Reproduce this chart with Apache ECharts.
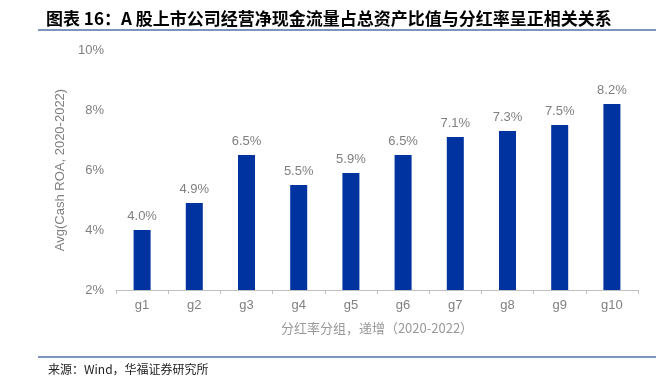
<!DOCTYPE html>
<html><head><meta charset="utf-8">
<script src="https://cdn.jsdelivr.net/npm/echarts@6/dist/echarts.min.js"></script>
<style>html,body{margin:0;padding:0;background:#fff}#c{width:663px;height:383px}</style>
</head><body><div id="c"></div>
<script>
const categories = ['g1','g2','g3','g4','g5','g6','g7','g8','g9','g10'];
const values = [4.0, 4.9, 6.5, 5.5, 5.9, 6.5, 7.1, 7.3, 7.5, 8.2];
const yTicks = [2, 4, 6, 8, 10];
const titleText = '图表 16：A 股上市公司经营净现金流量占总资产比值与分红率呈正相关关系';
const sourceText = '来源：Wind，华福证券研究所';
const xName = '分红率分组，递增（2020-2022）';
const yName = 'Avg(Cash ROA, 2020-2022)';

const chart = echarts.init(document.getElementById('c'));
chart.setOption({
  animation: false,
  title: {
    text: titleText, left: 41, top: 5,
    textStyle: {fontFamily: '"Noto Sans CJK SC"', fontSize: 17, fontWeight: 'bold', color: '#000'}
  },
  graphic: [
    {type: 'line', shape: {x1: 38, y1: 30, x2: 656, y2: 30}, style: {stroke: '#4f72a8', lineWidth: 1.5}},
    {type: 'line', shape: {x1: 38, y1: 357, x2: 656, y2: 357}, style: {stroke: '#4f72a8', lineWidth: 1.5}},
    {type: 'text', left: 48, top: 363, style: {text: sourceText, fontSize: 12, fill: '#222', fontFamily: '"Noto Sans CJK SC"'}}
  ],
  grid: {left: 116, right: 25, top: 50, bottom: 93},
  xAxis: {
    type: 'category', data: categories,
    name: xName, nameLocation: 'middle', nameGap: 32,
    nameTextStyle: {color: '#999999', fontSize: 13, fontFamily: '"Noto Sans CJK SC"'},
    axisLine: {lineStyle: {color: '#bfbfbf'}},
    axisTick: {show: true, length: 4, lineStyle: {color: '#bfbfbf'}},
    axisLabel: {color: '#808080', fontSize: 13, margin: 9, fontFamily: 'Liberation Sans'}
  },
  yAxis: {
    type: 'value', min: yTicks[0], max: yTicks[yTicks.length-1], interval: 2,
    name: yName, nameLocation: 'middle', nameGap: 48, nameRotate: 90,
    nameTextStyle: {color: '#808080', fontSize: 13, fontFamily: 'Liberation Sans'},
    axisLine: {show: false}, axisTick: {show: false}, splitLine: {show: false},
    axisLabel: {color: '#808080', fontSize: 13, margin: 12, fontFamily: 'Liberation Sans', formatter: v => v + '%'}
  },
  series: [{
    type: 'bar', data: values, barWidth: 17,
    itemStyle: {color: '#0032a0'},
    label: {show: true, position: 'top', distance: 7, color: '#808080', fontSize: 13, fontFamily: 'Liberation Sans',
      formatter: p => p.value.toFixed(1) + '%'}
  }]
});
</script></body></html>
